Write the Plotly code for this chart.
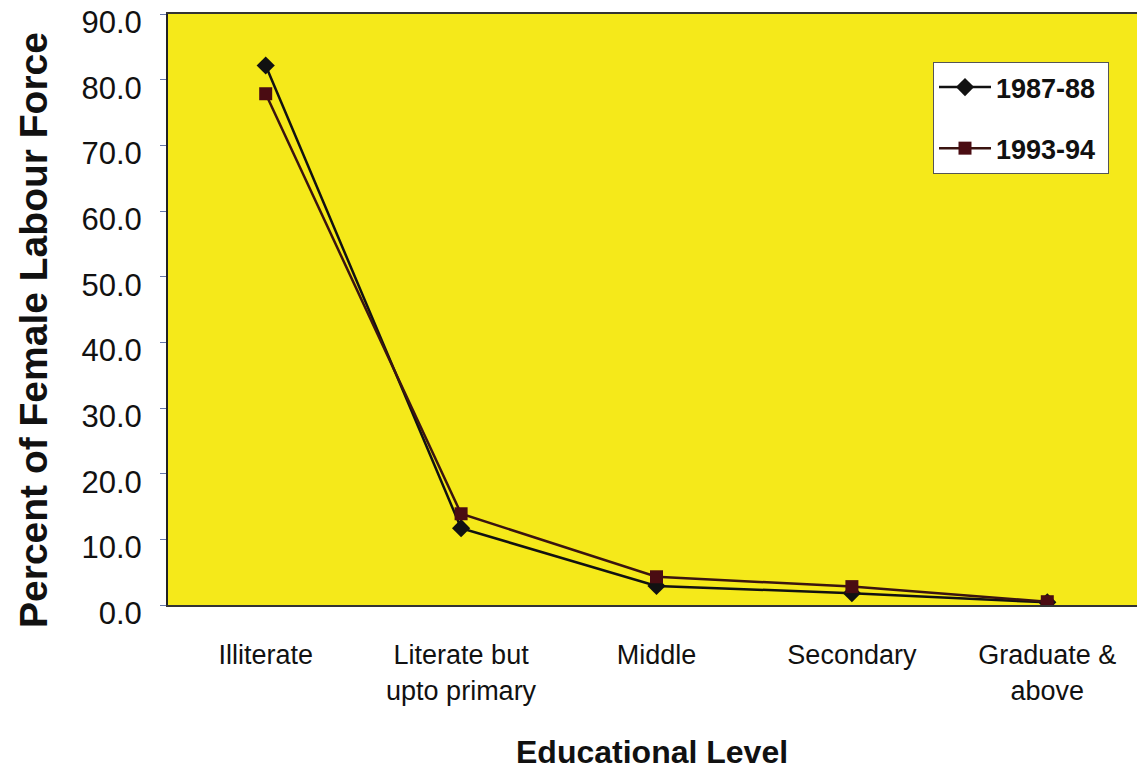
import plotly.graph_objects as go

categories = ["Illiterate", "Literate but<br>upto primary", "Middle", "Secondary", "Graduate &<br>above"]
series_1987 = [82.2, 11.7, 2.9, 1.8, 0.4]
series_1993 = [77.9, 13.9, 4.3, 2.8, 0.5]
y_ticks = [0, 10, 20, 30, 40, 50, 60, 70, 80, 90]
y_tick_labels = [f"{v:.1f}" for v in y_ticks]

FONT = "Liberation Sans, Arial, Helvetica, sans-serif"
OFF = 8  # browser default body margin
W, H = 1145 - OFF, 772 - OFF
TOP, BOTTOM, LEFT = 14 - OFF, 605 - OFF, 168 - OFF
PH = BOTTOM - TOP
PW = W - LEFT


def px(xr):
    return (xr - OFF - LEFT) / PW


def py(yr):
    return (BOTTOM - (yr - OFF)) / PH


fig = go.Figure()
fig.add_trace(go.Scatter(
    x=list(range(len(categories))), y=series_1987, name="1987-88\u00a0",
    mode="lines+markers", legendgroup="a",
    line=dict(color="#111111", width=2.5),
    marker=dict(symbol="diamond", size=14, color="#111111"),
))
fig.add_trace(go.Scatter(
    x=list(range(len(categories))), y=series_1993, name="1993-94\u00a0",
    mode="lines+markers", legendgroup="b",
    line=dict(color="#3a1410", width=2.5),
    marker=dict(symbol="square", size=13, color="#4a0c12"),
))

fig.update_layout(
    width=W, height=H,
    margin=dict(l=LEFT, r=0, t=TOP, b=H - BOTTOM, autoexpand=False),
    paper_bgcolor="white",
    plot_bgcolor="#f5e91a",
    font=dict(family=FONT, color="#111111"),
    showlegend=True,
    legend=dict(
        x=px(933), y=py(62), xanchor="left", yanchor="top",
        bgcolor="white", bordercolor="#555555", borderwidth=1,
        font=dict(size=27, family=FONT, weight="bold"),
        tracegroupgap=23,
        itemwidth=52,
    ),
    xaxis=dict(
        range=[-0.5, 4.5], automargin=False,
        tickmode="array", tickvals=list(range(len(categories))), ticktext=categories,
        tickfont=dict(size=27, family=FONT),
        ticks="", showgrid=False, zeroline=False,
        showline=True, linecolor="#333333", linewidth=2, mirror=True,
        ticklabelstandoff=25,
    ),
    yaxis=dict(
        range=[0, 90.05], automargin=False,
        tickmode="array", tickvals=y_ticks, ticktext=y_tick_labels,
        tickfont=dict(size=31, family=FONT),
        ticks="outside", ticklen=6, tickcolor="#6677aa", tickwidth=1,
        showgrid=False, zeroline=False,
        showline=True, linecolor="#222222", linewidth=2,
        ticklabelstandoff=12, ticklabelshift=8, ticklabeloverflow="allow",
    ),
    annotations=[
        dict(text="<b>Percent of Female Labour Force</b>", textangle=-90,
             xref="paper", yref="paper", x=px(33), y=py(330),
             showarrow=False, font=dict(size=39, family=FONT, color="#111111"),
             xanchor="center", yanchor="middle"),
        dict(text="<b>Educational Level</b>",
             xref="paper", yref="paper", x=px(652), y=py(752),
             showarrow=False, font=dict(size=32, family=FONT, color="#111111"),
             xanchor="center", yanchor="middle"),
    ],
)

fig.write_html("out.html")
